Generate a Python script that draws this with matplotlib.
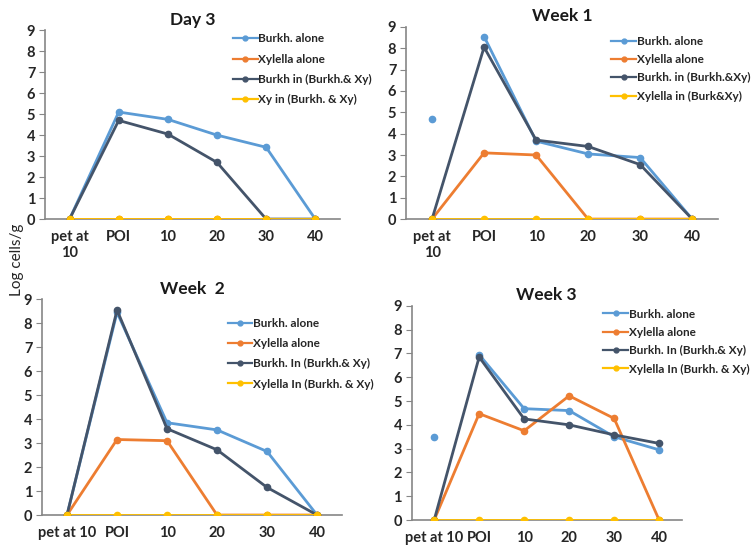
import matplotlib.pyplot as plt
import numpy as np

CATS_WRAP = ["pet at\n10", "POI", "10", "20", "30", "40"]
CATS_FLAT = ["pet at 10", "POI", "10", "20", "30", "40"]

# Day 3
D3_BURKH = [0, 5.1, 4.75, 4.0, 3.42, 0]
D3_XYL = [0, 0, 0, 0, 0, 0]
D3_BURKH_IN = [0, 4.7, 4.05, 2.7, 0, 0]
D3_XY_IN = [0, 0, 0, 0, 0, 0]
D3_LABELS = ["Burkh. alone", "Xylella alone", "Burkh in (Burkh.& Xy)", "Xy in (Burkh. & Xy)"]

# Week 1
W1_BURKH = [4.7, 8.55, 3.65, 3.05, 2.88, 0]
W1_XYL = [0, 3.1, 3.0, 0, 0, 0]
W1_BURKH_IN = [0, 8.05, 3.7, 3.4, 2.55, 0]
W1_XY_IN = [0, 0, 0, 0, 0, 0]
W1_LABELS = ["Burkh. alone", "Xylella alone", "Burkh. in (Burkh.&Xy)", "Xylella in (Burk&Xy)"]

# Week 2
W2_BURKH = [0, 8.45, 3.85, 3.55, 2.65, 0]
W2_XYL = [0, 3.15, 3.1, 0, 0, 0]
W2_BURKH_IN = [0, 8.55, 3.6, 2.72, 1.15, 0]
W2_XY_IN = [0, 0, 0, 0, 0, 0]
W2_LABELS = ["Burkh. alone", "Xylella alone", "Burkh. In (Burkh.& Xy)", "Xylella In (Burkh. & Xy)"]

# Week 3
W3_BURKH = [3.5, 6.95, 4.68, 4.6, 3.5, 2.95]
W3_XYL = [0, 4.47, 3.75, 5.22, 4.27, 0]
W3_BURKH_IN = [0, 6.85, 4.25, 4.0, 3.58, 3.22]
W3_XY_IN = [0, 0, 0, 0, 0, 0]
W3_LABELS = ["Burkh. alone", "Xylella alone", "Burkh. In (Burkh.& Xy)", "Xylella In (Burkh. & Xy)"]

COLORS = ["#5B9BD5", "#ED7D31", "#44546A", "#FFC000"]
SPINE = "#868686"

plt.rcParams["font.family"] = ["Lato", "DejaVu Sans"]

fig = plt.figure(figsize=(7.54, 5.49), dpi=100)

panels = [
    # title, series, labels, cats, axes rect, legend anchor, row spacing, first point of Burkh alone detached
    ("Day 3", [D3_BURKH, D3_XYL, D3_BURKH_IN, D3_XY_IN], D3_LABELS, CATS_WRAP,
     [0.0597, 0.601, 0.391, 0.344], (0.309, 0.939), 0.78, False),
    ("Week 1", [W1_BURKH, W1_XYL, W1_BURKH_IN, W1_XY_IN], W1_LABELS, CATS_WRAP,
     [0.5385, 0.601, 0.414, 0.350], (0.811, 0.935), 0.62, True),
    ("Week  2", [W2_BURKH, W2_XYL, W2_BURKH_IN, W2_XY_IN], W2_LABELS, CATS_FLAT,
     [0.0557, 0.0619, 0.398, 0.393], (0.302, 0.421), 0.78, False),
    ("Week 3", [W3_BURKH, W3_XYL, W3_BURKH_IN, W3_XY_IN], W3_LABELS, CATS_FLAT,
     [0.546, 0.0528, 0.358, 0.390], (0.800, 0.438), 0.62, True),
]

for title, series, labels, cats, rect, anchor, spacing, detached in panels:
    ax = fig.add_axes(rect)
    x = np.arange(len(cats))
    for i, (vals, lab, col) in enumerate(zip(series, labels, COLORS)):
        vals = np.array(vals, dtype=float)
        if i == 0 and detached:
            ax.plot(x[1:], vals[1:], color=col, lw=2, marker="o", ms=4.5, label=lab, zorder=2 + i)
            ax.plot(x[:1], vals[:1], color=col, lw=0, marker="o", ms=4.5, zorder=2 + i)
        else:
            ax.plot(x, vals, color=col, lw=2, marker="o", ms=4.5, label=lab, zorder=2 + i)
    ax.set_xlim(-0.5, len(cats) - 0.5)
    ax.set_ylim(0, 9)
    ax.set_yticks(range(0, 10))
    ax.set_xticks(x, cats)
    ax.tick_params(axis="x", length=0, pad=8, labelsize=10.5)
    ax.tick_params(axis="y", length=4, color=SPINE, labelsize=10.5, pad=3)
    for lbl in ax.get_xticklabels() + ax.get_yticklabels():
        lbl.set_fontweight("bold")
        lbl.set_color("#262626")
    for s in ("top", "right"):
        ax.spines[s].set_visible(False)
    for s in ("left", "bottom"):
        ax.spines[s].set_color(SPINE)
        ax.spines[s].set_linewidth(1.2)
    ax.set_title(title, fontsize=12.5, fontweight="bold", pad=4, color="#1a1a1a")
    leg = fig.legend(*ax.get_legend_handles_labels(), loc="upper left", bbox_to_anchor=anchor,
                     frameon=False, fontsize=8.5, handlelength=2.1, handletextpad=0.05,
                     labelspacing=spacing, borderaxespad=0, borderpad=0)
    for h in leg.legend_handles:
        h.set_linewidth(1.6)
        h.set_markersize(3.5)
    for t in leg.get_texts():
        t.set_fontweight("bold")
        t.set_color("#262626")

fig.text(0.022, 0.526, "Log cells/g", rotation=90, fontsize=11, ha="center", va="center",
         color="#262626")

fig.savefig("out.png", dpi=100)
